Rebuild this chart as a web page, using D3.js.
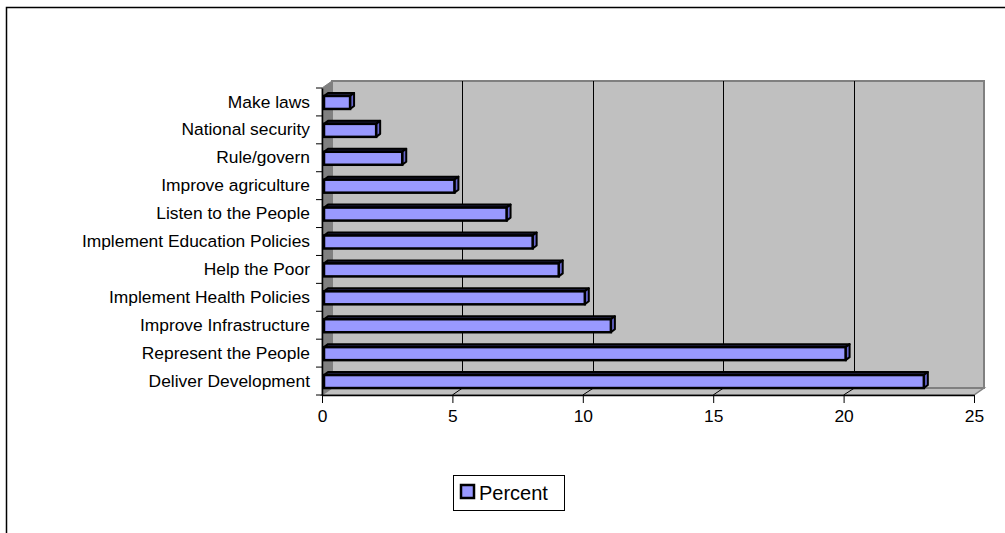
<!DOCTYPE html>
<html>
<head>
<meta charset="utf-8">
<script src="https://cdn.jsdelivr.net/npm/d3@7"></script>
<style>
  body { margin: 0; background: #fff; }
  svg { display: block; font-family: "Liberation Sans", Arial, sans-serif; }
</style>
</head>
<body>
<svg id="chart" width="1005" height="533"></svg>
<script>
// categories top to bottom, as shown
var categories = [
  'Make laws',
  'National security',
  'Rule/govern',
  'Improve agriculture',
  'Listen to the People',
  'Implement Education Policies',
  'Help the Poor',
  'Implement Health Policies',
  'Improve Infrastructure',
  'Represent the People',
  'Deliver Development'
];
var percent = [1, 2, 3, 5, 7, 8, 9, 10, 11, 20, 23];
var xTicks = [0, 5, 10, 15, 20, 25];
var seriesName = 'Percent';

var svg = d3.select('#chart');

// depth offsets for the fake 3d look
var DX = 10, DY = -7;
var BDX = 4, BDY = -3;

var x = d3.scaleLinear().domain([0, 25]).range([322, 974]);
var y = d3.scaleBand().domain(categories).range([88, 395]);

var x0 = x(0), x1 = x(25), yTop = y.range()[0], yBot = y.range()[1];

// outer chart border
svg.append('rect')
    .attr('x', 6.5).attr('y', 7.5)
    .attr('width', 1100).attr('height', 600)
    .attr('fill', 'none').attr('stroke', '#000').attr('stroke-width', 1.5);

function poly(pts) {
  return pts.map(function(p) { return p.join(','); }).join(' ');
}

// side wall
svg.append('polygon')
    .attr('points', poly([[x0, yTop], [x0 + DX, yTop + DY], [x0 + DX, yBot + DY], [x0, yBot]]))
    .attr('fill', '#808080').attr('stroke', '#808080');

// floor
svg.append('polygon')
    .attr('points', poly([[x0, yBot], [x0 + DX, yBot + DY], [x1 + DX, yBot + DY], [x1, yBot]]))
    .attr('fill', '#c0c0c0').attr('stroke', '#808080').attr('stroke-width', 1.5);

// back wall
svg.append('rect')
    .attr('x', x0 + DX).attr('y', yTop + DY)
    .attr('width', x1 - x0).attr('height', yBot - yTop)
    .attr('fill', '#c0c0c0').attr('stroke', '#808080').attr('stroke-width', 2);

// gridlines on wall and floor
var grid = svg.append('g').attr('stroke', '#000').attr('stroke-width', 1);
xTicks.slice(1, -1).forEach(function(t) {
  var gx = Math.round(x(t) + DX) + 0.5;
  grid.append('line')
      .attr('x1', gx).attr('x2', gx)
      .attr('y1', yTop + DY).attr('y2', yBot + DY);
  grid.append('line')
      .attr('x1', gx).attr('y1', yBot + DY)
      .attr('x2', x(t)).attr('y2', yBot);
});

// bars
var bars = svg.append('g').selectAll('g')
    .data(categories)
    .enter().append('g');

bars.each(function(c, i) {
  var g = d3.select(this);
  var bx = x0 + 2;
  var bw = x(percent[i]) - x0;
  var by = y(c) + y.bandwidth() / 2 - 6;
  var bh = 13;
  // top face
  g.append('polygon')
      .attr('points', poly([[bx, by], [bx + BDX, by + BDY], [bx + bw + BDX, by + BDY], [bx + bw, by]]))
      .attr('fill', '#222244').attr('stroke', '#000').attr('stroke-width', 2)
      .attr('stroke-linejoin', 'round');
  // side face
  g.append('polygon')
      .attr('points', poly([[bx + bw, by], [bx + bw + BDX, by + BDY], [bx + bw + BDX, by + bh + BDY], [bx + bw, by + bh]]))
      .attr('fill', '#6666cc').attr('stroke', '#000').attr('stroke-width', 2)
      .attr('stroke-linejoin', 'round');
  // front face
  g.append('rect')
      .attr('x', bx).attr('y', by)
      .attr('width', bw).attr('height', bh)
      .attr('fill', '#9999ff').attr('stroke', '#000').attr('stroke-width', 2.5);
});

// category axis
var yAxis = svg.append('g')
    .attr('transform', 'translate(' + x0 + ',0)')
    .call(d3.axisLeft(y).tickSize(0).tickPadding(12));
yAxis.select('.domain').attr('stroke', '#000').attr('stroke-width', 1.5);
yAxis.selectAll('text')
    .attr('font-size', 17.4).attr('fill', '#000')
    .attr('font-family', '"Liberation Sans", Arial, sans-serif');
// ticks between categories
var bounds = categories.map(function(c) { return y(c); }).concat([yBot]);
yAxis.selectAll('.sep').data(bounds).enter().append('line')
    .attr('x1', -6).attr('x2', 0)
    .attr('y1', function(d) { return d; }).attr('y2', function(d) { return d; })
    .attr('stroke', '#000');

// value axis
var xAxis = svg.append('g')
    .attr('transform', 'translate(0,' + yBot + ')')
    .call(d3.axisBottom(x).tickValues(xTicks).tickSize(8).tickSizeOuter(0).tickPadding(7));
xAxis.select('.domain').attr('stroke', '#000').attr('stroke-width', 1.5);
xAxis.selectAll('text')
    .attr('font-size', 17.4).attr('fill', '#000')
    .attr('font-family', '"Liberation Sans", Arial, sans-serif');

// legend
var legend = svg.append('g').attr('transform', 'translate(453,475)');
legend.append('rect')
    .attr('x', 0.5).attr('y', 0.5).attr('width', 111).attr('height', 35)
    .attr('fill', '#fff').attr('stroke', '#000');
legend.append('rect')
    .attr('x', 8).attr('y', 10).attr('width', 13).attr('height', 13)
    .attr('fill', '#9999ff').attr('stroke', '#000').attr('stroke-width', 2.5);
legend.append('text')
    .attr('x', 26).attr('y', 24.5)
    .attr('font-size', 20).attr('fill', '#000')
    .text(seriesName);
</script>
</body>
</html>
